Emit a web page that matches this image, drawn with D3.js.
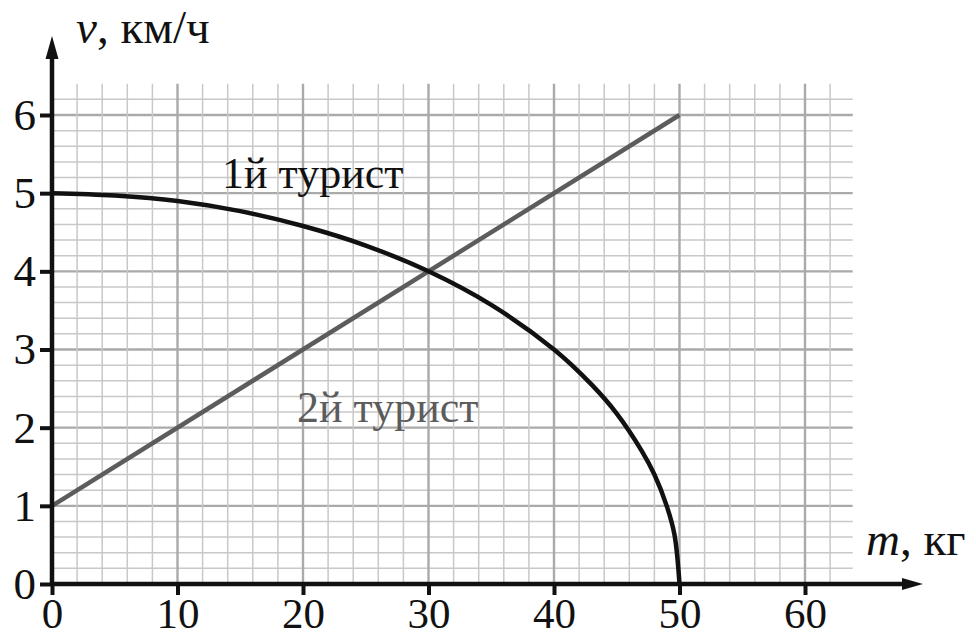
<!DOCTYPE html>
<html>
<head>
<meta charset="utf-8">
<script src="https://cdn.jsdelivr.net/npm/d3@7"></script>
<style>
  body { margin: 0; background: #fff; }
  svg text { font-family: "Liberation Serif", "Times New Roman", Tinos, "DejaVu Serif", serif; }
</style>
</head>
<body>
<svg id="chart" width="976" height="638"></svg>
<script>
// Data

const xTicks = [0, 10, 20, 30, 40, 50, 60];
const yTicks = [0, 1, 2, 3, 4, 5, 6];

// 1st tourist (black curve)
const mass1 = [0, 5, 10, 15, 20, 25, 30, 35, 40, 43, 45, 47, 48, 49, 49.6, 50];
const speed1 = [5, 4.97, 4.9, 4.77, 4.58, 4.33, 4.0, 3.57, 3.0, 2.55, 2.18, 1.7, 1.4, 0.99, 0.63, 0];

// 2nd tourist (grey line)
const mass2 = [0, 50];
const speed2 = [1, 6];

const serif = '"Liberation Serif", "Times New Roman", Tinos, "DejaVu Serif", serif';

// SVG setup

const svg = d3.select("svg#chart");

const x = d3.scaleLinear()
    .domain([0, 60])
    .range([52, 805]);

const y = d3.scaleLinear()
    .domain([0, 6])
    .range([584, 115]);

// Grid

const grid = svg.append("g");

const vLines = d3.range(2, 63, 2);
const hLines = d3.range(1, 32).map(d => d / 5);
const isMajorY = d => Math.abs(d - Math.round(d)) < 1e-6;

grid.selectAll("line.h")
    .data(hLines)
    .join("line")
    .attr("x1", x(0))
    .attr("x2", x(63.8))
    .attr("y1", d => y(d))
    .attr("y2", d => y(d))
    .attr("stroke", d => isMajorY(d) ? "#aaaaaa" : "#c8c8c8")
    .attr("stroke-width", d => isMajorY(d) ? 2.4 : 1.5);

grid.selectAll("line.v")
    .data(vLines)
    .join("line")
    .attr("x1", d => x(d))
    .attr("x2", d => x(d))
    .attr("y1", y(0))
    .attr("y2", y(6.4))
    .attr("stroke", d => d % 10 === 0 ? "#aaaaaa" : "#c8c8c8")
    .attr("stroke-width", d => d % 10 === 0 ? 2.4 : 1.5);

// Lines

const line = d3.line()
    .x(d => x(d[0]))
    .y(d => y(d[1]));

svg.append("path")
    .datum(mass2.map((m, i) => [m, speed2[i]]))
    .attr("fill", "none")
    .attr("stroke", "#5c5c5c")
    .attr("stroke-width", 4.5)
    .attr("d", line);

svg.append("path")
    .datum(mass1.map((m, i) => [m, speed1[i]]))
    .attr("fill", "none")
    .attr("stroke", "#111")
    .attr("stroke-width", 4.5)
    .attr("d", line.curve(d3.curveCatmullRom.alpha(0.5)));

// Axis

const xAxis = svg.append("g")
    .attr("transform", `translate(0,${y(0)})`)
    .call(d3.axisBottom(x).tickValues(xTicks).tickFormat(d3.format("d")).tickSize(11).tickPadding(2));

const yAxis = svg.append("g")
    .attr("transform", `translate(${x(0)},0)`)
    .call(d3.axisLeft(y).tickValues(yTicks).tickFormat(d3.format("d")).tickSize(12).tickPadding(4));

[xAxis, yAxis].forEach(g => {
    g.attr("font-family", null);
    g.select(".domain").remove();
    g.selectAll(".tick line")
        .attr("stroke", "#111")
        .attr("stroke-width", 4);
});

xAxis.selectAll("text")
    .style("font-family", serif)
    .style("font-size", "43px")
    .attr("fill", "#111");

yAxis.selectAll("text")
    .style("font-family", serif)
    .style("font-size", "45px")
    .attr("fill", "#111");

// axis lines with arrows
svg.append("line")
    .attr("x1", x(0))
    .attr("x2", 905)
    .attr("y1", y(0))
    .attr("y2", y(0))
    .attr("stroke", "#111")
    .attr("stroke-width", 4.5);

svg.append("path")
    .attr("d", `M923,${y(0)} L902,${y(0) - 6} L902,${y(0) + 6} Z`)
    .attr("fill", "#111");

svg.append("line")
    .attr("x1", x(0))
    .attr("x2", x(0))
    .attr("y1", y(0) + 2)
    .attr("y2", 56)
    .attr("stroke", "#111")
    .attr("stroke-width", 4.5);

svg.append("path")
    .attr("d", `M${x(0)},36 L${x(0) - 6.5},59 L${x(0) + 6.5},59 Z`)
    .attr("fill", "#111");

// Axis titles

const yTitle = svg.append("text")
    .attr("x", 76)
    .attr("y", 43)
    .style("font-family", serif)
    .style("font-size", "47px")
    .attr("fill", "#111");
yTitle.append("tspan").style("font-style", "italic").text("v");
yTitle.append("tspan").text(", км/ч");

const xTitle = svg.append("text")
    .attr("x", 866)
    .attr("y", 555)
    .style("font-family", serif)
    .style("font-size", "47px")
    .attr("fill", "#111");
xTitle.append("tspan").style("font-style", "italic").text("m");
xTitle.append("tspan").text(", кг");

// Labels

svg.append("text")
    .attr("x", 222)
    .attr("y", 188)
    .style("font-family", serif)
    .style("font-size", "44px")
    .attr("fill", "#111")
    .text("1й турист");

svg.append("text")
    .attr("x", 297)
    .attr("y", 422)
    .style("font-family", serif)
    .style("font-size", "44px")
    .attr("fill", "#5c5c5c")
    .text("2й турист");
</script>
</body>
</html>
